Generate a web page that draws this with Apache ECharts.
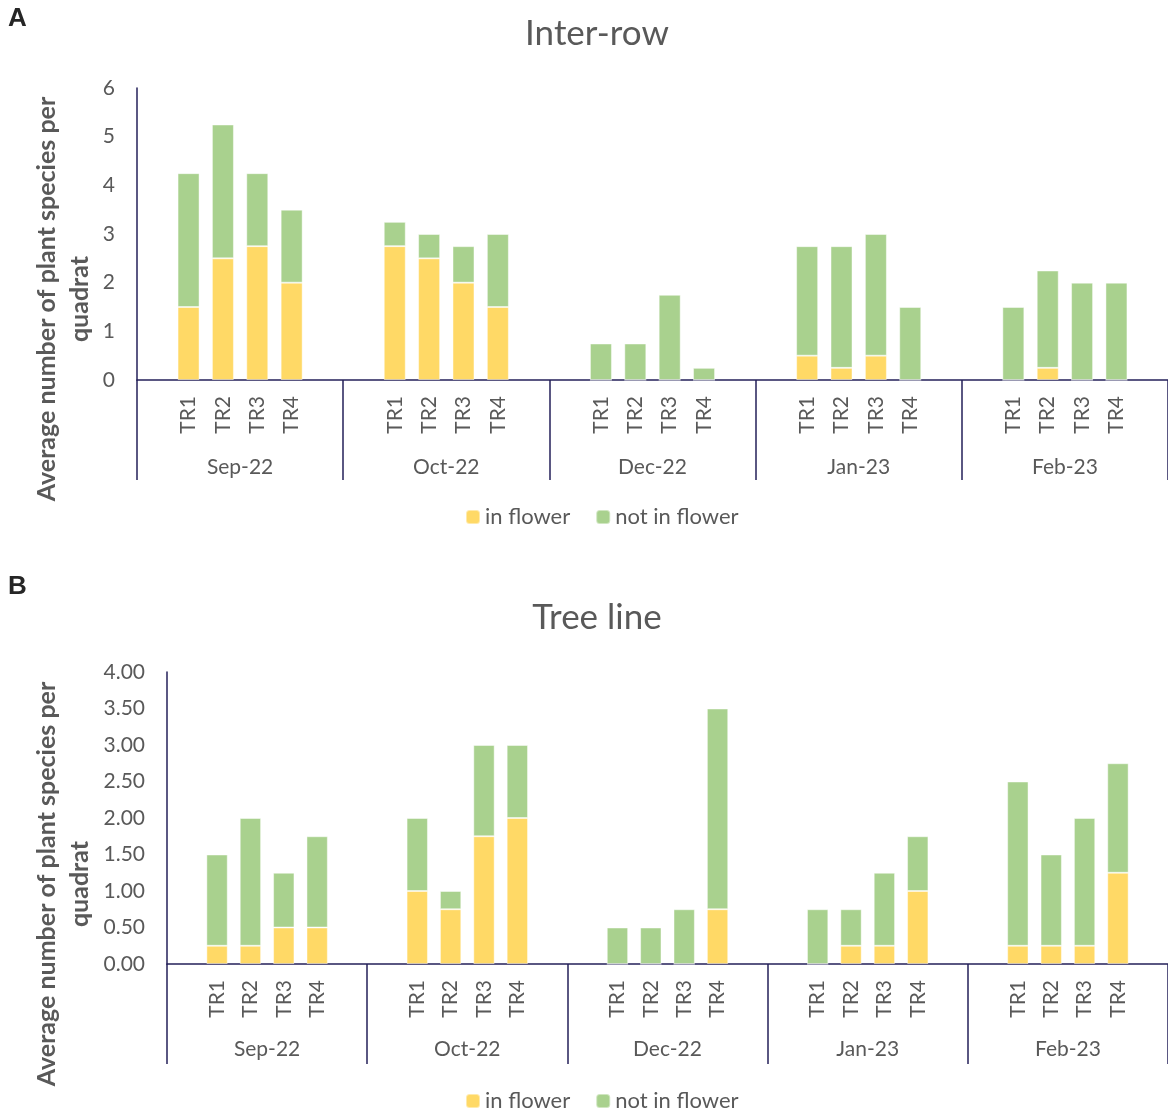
<!DOCTYPE html>
<html>
<head>
<meta charset="utf-8">
<script src="https://cdn.jsdelivr.net/npm/echarts@6/dist/echarts.min.js"></script>
<style>
html,body{margin:0;padding:0;background:#fff;}
#chart{width:1168px;height:1112px;}
</style>
</head>
<body>
<div id="chart"></div>
<script>
const months = ['Sep-22', 'Oct-22', 'Dec-22', 'Jan-23', 'Feb-23'];
const treatments = ['TR1', 'TR2', 'TR3', 'TR4'];
const seriesNames = ['in flower', 'not in flower'];

// Panel A: Inter-row (per month: TR1..TR4)
const interRowInFlower    = [1.5, 2.5, 2.75, 2,   2.75, 2.5, 2, 1.5,   0, 0, 0, 0,   0.5, 0.25, 0.5, 0,   0, 0.25, 0, 0];
const interRowNotInFlower = [2.75, 2.75, 1.5, 1.5,   0.5, 0.5, 0.75, 1.5,   0.75, 0.75, 1.75, 0.25,   2.25, 2.5, 2.5, 1.5,   1.5, 2, 2, 2];

// Panel B: Tree line
const treeLineInFlower    = [0.25, 0.25, 0.5, 0.5,   1, 0.75, 1.75, 2,   0, 0, 0, 0.75,   0, 0.25, 0.25, 1,   0.25, 0.25, 0.25, 1.25];
const treeLineNotInFlower = [1.25, 1.75, 0.75, 1.25,   1, 0.25, 1.25, 1,   0.5, 0.5, 0.75, 2.75,   0.75, 0.5, 1, 0.75,   2.25, 1.25, 1.75, 1.5];

const yTicksA = [0, 6, 1];
const yTicksB = [0, 4, 0.5];

// Build padded category list: blank slot, TR1..TR4, blank slot per month
const cats = [];
months.forEach(() => { cats.push(''); treatments.forEach(t => cats.push(t)); cats.push(''); });
function pad(arr) {
  const out = [];
  months.forEach((m, i) => {
    out.push(null);
    for (let j = 0; j < treatments.length; j++) out.push(arr[i * treatments.length + j]);
    out.push(null);
  });
  return out;
}

const FONT = 'Lato';
const TXT = '#595959';
const NAVY = '#25215A';
const YEL = '#FFD966';
const GRN = '#A9D18E';

const grids = [
  { left: 137, right: 0, top: 88, height: 292 },
  { left: 167, right: 0, top: 672, height: 292 }
];

function xAxesFor(gi, groupMargin) {
  return [
    {
      type: 'category', gridIndex: gi, data: cats, position: 'bottom',
      axisLine: { show: true, lineStyle: { color: NAVY, width: 1.5 } },
      axisTick: { show: false },
      axisLabel: { rotate: 90, interval: 0, margin: 16, color: TXT, fontFamily: FONT, fontSize: 21 },
      splitLine: { show: false }
    },
    {
      type: 'category', gridIndex: gi, data: months, position: 'bottom',
      axisLine: { show: false },
      axisTick: { show: true, length: 100, lineStyle: { color: NAVY, width: 1.5 } },
      axisLabel: { interval: 0, margin: groupMargin, color: TXT, fontFamily: FONT, fontSize: 21 },
      splitLine: { show: false }
    }
  ];
}

function yAxisFor(gi, t, dec) {
  return {
    type: 'value', gridIndex: gi, min: t[0], max: t[1], interval: t[2],
    axisLine: { show: true, lineStyle: { color: NAVY, width: 1.5 } },
    axisTick: { show: false },
    splitLine: { show: false },
    axisLabel: {
      margin: 22, color: TXT, fontFamily: FONT, fontSize: 21,
      formatter: v => v.toFixed(dec)
    }
  };
}

function barSeries(name, data, xi, yi, color) {
  return {
    name: name, type: 'bar', stack: 'g' + yi, xAxisIndex: xi, yAxisIndex: yi,
    data: pad(data), barCategoryGap: '36%',
    itemStyle: { color: color, borderColor: 'rgba(255,255,255,0.45)', borderWidth: 1 },
    emphasis: { disabled: true }, animation: false
  };
}

const yTitle = 'Average number of plant species per\nquadrat';

const legendBase = {
  data: seriesNames, left: 465, itemWidth: 14, itemHeight: 14, itemGap: 25, padding: 0,
  textStyle: { fontFamily: FONT, fontSize: 22, color: TXT, padding: [0, 0, 0, 0] }, selectedMode: false
};

const option = {
  animation: false,
  backgroundColor: '#fff',
  title: [
    { text: 'Inter-row', left: 592, top: 11, textAlign: 'center',
      textStyle: { fontFamily: FONT, fontSize: 35, fontWeight: 'normal', color: TXT } },
    { text: 'Tree line', left: 592, top: 595, textAlign: 'center',
      textStyle: { fontFamily: FONT, fontSize: 35, fontWeight: 'normal', color: TXT } }
  ],
  legend: [
    Object.assign({}, legendBase, { top: 506 }),
    Object.assign({}, legendBase, { top: 1090 })
  ],
  grid: grids,
  xAxis: [...xAxesFor(0, 77), ...xAxesFor(1, 75)],
  yAxis: [yAxisFor(0, yTicksA, 0), yAxisFor(1, yTicksB, 2)],
  series: [
    barSeries(seriesNames[0], interRowInFlower, 0, 0, YEL),
    barSeries(seriesNames[1], interRowNotInFlower, 0, 0, GRN),
    barSeries(seriesNames[0], treeLineInFlower, 2, 1, YEL),
    barSeries(seriesNames[1], treeLineNotInFlower, 2, 1, GRN)
  ],
  graphic: [
    { type: 'text', left: 8, top: 6, style: { text: 'A', font: 'bold 26px "Liberation Sans"', fill: '#262626' } },
    { type: 'text', left: 8, top: 574, style: { text: 'B', font: 'bold 26px "Liberation Sans"', fill: '#262626' } },
    { type: 'text', x: 63, y: 299, rotation: Math.PI / 2,
      style: { text: yTitle, font: 'bold 25px Lato', fill: TXT, align: 'center', verticalAlign: 'middle', lineHeight: 33 } },
    { type: 'text', x: 63, y: 884, rotation: Math.PI / 2,
      style: { text: yTitle, font: 'bold 25px Lato', fill: TXT, align: 'center', verticalAlign: 'middle', lineHeight: 33 } }
  ]
};

const chart = echarts.init(document.getElementById('chart'));
chart.setOption(option);
</script>
</body>
</html>
